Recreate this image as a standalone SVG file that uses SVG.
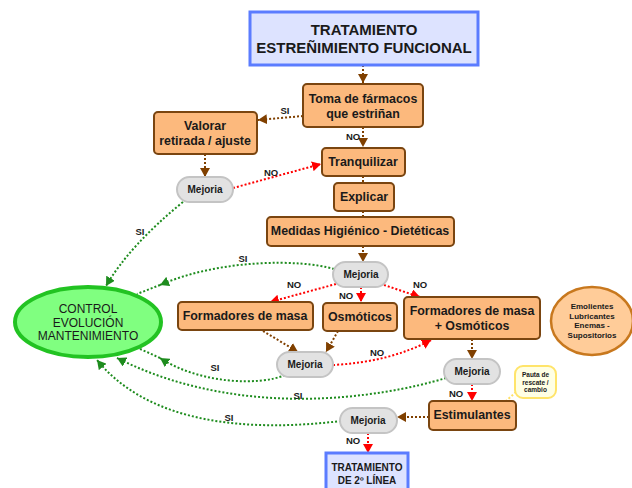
<svg xmlns="http://www.w3.org/2000/svg" width="632" height="488" viewBox="0 0 632 488">
<style>
text{font-family:"Liberation Sans",Arial,sans-serif;fill:#1a1a1a;text-anchor:middle}
.box{fill:#fcb97d;stroke:#7a4510;stroke-width:2}
.ttl{fill:#dde3ff;stroke:#5b7cff;stroke-width:3}
.pill{fill:#e2e2e2;stroke:#c4c4c4;stroke-width:2}
.bt{font-weight:bold;font-size:12.4px}
.tt{font-weight:bold;font-size:15px}
.mj{font-weight:bold;font-size:10px}
.lb{font-weight:bold;font-size:9.5px}
.br{fill:none;stroke:#804000;stroke-width:2;stroke-dasharray:2 2}
.rd{fill:none;stroke:#ff0000;stroke-width:2;stroke-dasharray:2 2}
.gr{fill:none;stroke:#1e8c1e;stroke-width:2;stroke-dasharray:2 2}
.yl{fill:none;stroke:#ffe066;stroke-width:2;stroke-dasharray:2 2}
</style>
<defs>
<marker id="ab" markerUnits="userSpaceOnUse" markerWidth="10" markerHeight="10" refX="9" refY="5" orient="auto"><path d="M0,0 L9,5 L0,10 z" fill="#804000"/></marker>
<marker id="ar" markerUnits="userSpaceOnUse" markerWidth="10" markerHeight="10" refX="9" refY="5" orient="auto"><path d="M0,0 L9,5 L0,10 z" fill="#ff0000"/></marker>
<marker id="ag" markerUnits="userSpaceOnUse" markerWidth="10" markerHeight="10" refX="9" refY="5" orient="auto"><path d="M0,0 L9,5 L0,10 z" fill="#1e8c1e"/></marker>
</defs>

<g id="connectors">
<path class="br" d="M363 65 L363 83" marker-end="url(#ab)"/>
<path class="br" d="M303 116 L258 120" marker-end="url(#ab)"/>
<path class="br" d="M363 127 L363 147" marker-end="url(#ab)"/>
<path class="br" d="M363 176 L363 183"/>
<path class="br" d="M363 211 L363 217"/>
<path class="br" d="M205 154 L205 177" marker-end="url(#ab)"/>
<path class="rd" d="M233 188 L321 164" marker-end="url(#ar)"/>
<path class="gr" d="M183 202 Q130 245 106 286" marker-end="url(#ag)"/>
<path class="br" d="M363 246 L363 262" marker-end="url(#ab)"/>
<path class="gr" d="M334 269 C300 259 220 259 160 285" marker-end="url(#ag)"/>
<path class="gr" d="M160 285 L137 294"/>
<path class="rd" d="M336 284 L270 302" marker-end="url(#ar)"/>
<path class="rd" d="M361 287 L361 302" marker-end="url(#ar)"/>
<path class="rd" d="M384 285 L420 297" marker-end="url(#ar)"/>
<path class="br" d="M263 331 L298 352" marker-end="url(#ab)"/>
<path class="br" d="M338 331 L326 352" marker-end="url(#ab)"/>
<path class="rd" d="M333 365 Q390 362 431 340" marker-end="url(#ar)"/>
<path class="gr" d="M285 375 C260 386 200 384 160 358" marker-end="url(#ag)"/>
<path class="gr" d="M160 358 L138 348"/>
<path class="br" d="M472 339 L472 359" marker-end="url(#ab)"/>
<path class="gr" d="M446 378 C380 398 240 420 117 358" marker-end="url(#ag)"/>
<path class="rd" d="M472 384 L472 401" marker-end="url(#ar)"/>
<path class="yl" d="M516 392 L506 401"/>
<path class="br" d="M429 417 L397 417" marker-end="url(#ab)"/>
<path class="gr" d="M341 421 C250 432 150 425 97 360" marker-end="url(#ag)"/>
<path class="rd" d="M368 433 L368 453" marker-end="url(#ar)"/>
<text class="lb" x="285" y="114">SI</text>
<text class="lb" x="353" y="140">NO</text>
<text class="lb" x="271" y="176">NO</text>
<text class="lb" x="140" y="235">SI</text>
<text class="lb" x="243" y="262">SI</text>
<text class="lb" x="294" y="288">NO</text>
<text class="lb" x="346" y="299">NO</text>
<text class="lb" x="420" y="288">NO</text>
<text class="lb" x="377" y="356">NO</text>
<text class="lb" x="215" y="371">SI</text>
<text class="lb" x="298" y="399">SI</text>
<text class="lb" x="456" y="397">NO</text>
<text class="lb" x="229" y="421">SI</text>
<text class="lb" x="353" y="444">NO</text>
</g>

<g id="titulo"><rect class="ttl" x="250" y="12" width="228" height="53"/><text class="tt" x="364" y="35">TRATAMIENTO</text><text class="tt" x="364" y="53">ESTREÑIMIENTO FUNCIONAL</text></g>
<g id="toma"><rect class="box" x="303" y="84" width="120" height="43" rx="4"/><text class="bt" x="363" y="103">Toma de fármacos</text><text class="bt" x="363" y="118">que estriñan</text></g>
<g id="valorar"><rect class="box" x="154" y="112" width="103" height="42" rx="4"/><text class="bt" x="205" y="130">Valorar</text><text class="bt" x="205" y="145">retirada / ajuste</text></g>
<g id="tranquilizar"><rect class="box" x="322" y="148" width="83" height="28" rx="4"/><text class="bt" x="363" y="166">Tranquilizar</text></g>
<g id="explicar"><rect class="box" x="334" y="183" width="60" height="28" rx="4"/><text class="bt" x="364" y="201">Explicar</text></g>
<g id="medidas"><rect class="box" x="267" y="217" width="187" height="29" rx="4"/><text class="bt" x="360" y="235">Medidas Higiénico - Dietéticas</text></g>
<g id="mejoria1"><rect class="pill" x="177" y="177" width="56" height="25" rx="12.5"/><text class="mj" x="205" y="193">Mejoria</text></g>
<g id="control"><ellipse cx="88" cy="322" rx="73" ry="35" fill="#80ff80" stroke="#22c322" stroke-width="4"/><text x="88" y="313" font-size="12">CONTROL</text><text x="88" y="327" font-size="12">EVOLUCIÓN</text><text x="88" y="340" font-size="12">MANTENIMIENTO</text></g>
<g id="mejoria2"><rect class="pill" x="333" y="262" width="55" height="25" rx="12.5"/><text class="mj" x="361" y="278">Mejoria</text></g>
<g id="formadores"><rect class="box" x="178" y="302" width="135" height="28" rx="4"/><text class="bt" x="245" y="320">Formadores de masa</text></g>
<g id="osmoticos"><rect class="box" x="323" y="303" width="74" height="28" rx="4"/><text class="bt" x="360" y="321">Osmóticos</text></g>
<g id="formosm"><rect class="box" x="404" y="297" width="136" height="42" rx="4"/><text class="bt" x="472" y="315">Formadores de masa</text><text class="bt" x="472" y="330">+ Osmóticos</text></g>
<g id="emolientes"><ellipse cx="592" cy="321" rx="41" ry="34" fill="#ffcc99" stroke="#c8781e" stroke-width="2.5"/><text x="592" y="309" font-size="8" font-weight="bold">Emolientes</text><text x="592" y="318.5" font-size="8" font-weight="bold">Lubricantes</text><text x="592" y="328" font-size="8" font-weight="bold">Enemas -</text><text x="592" y="337.5" font-size="8" font-weight="bold">Supositorios</text></g>
<g id="mejoria3"><rect class="pill" x="277" y="352" width="56" height="25" rx="12.5"/><text class="mj" x="305" y="368">Mejoria</text></g>
<g id="mejoria4"><rect class="pill" x="444" y="359" width="56" height="25" rx="12.5"/><text class="mj" x="472" y="375">Mejoria</text></g>
<g id="pauta"><rect x="515" y="366" width="41" height="32" rx="8" fill="#ffffe4" stroke="#ffe46a" stroke-width="2"/><text x="535.5" y="377" font-size="6.5" font-weight="bold">Pauta de</text><text x="535.5" y="384.5" font-size="6.5" font-weight="bold">rescate /</text><text x="535.5" y="392" font-size="6.5" font-weight="bold">cambio</text></g>
<g id="estimulantes"><rect class="box" x="429" y="401" width="87" height="29" rx="4"/><text class="bt" x="472" y="419">Estimulantes</text></g>
<g id="mejoria5"><rect class="pill" x="340" y="408" width="57" height="25" rx="12.5"/><text class="mj" x="368" y="424">Mejoria</text></g>
<g id="tratamiento2"><rect class="ttl" x="326" y="453" width="82" height="40"/><text x="367" y="471" font-size="10" font-weight="bold">TRATAMIENTO</text><text x="367" y="484" font-size="10" font-weight="bold">DE 2º LÍNEA</text></g>
</svg>
